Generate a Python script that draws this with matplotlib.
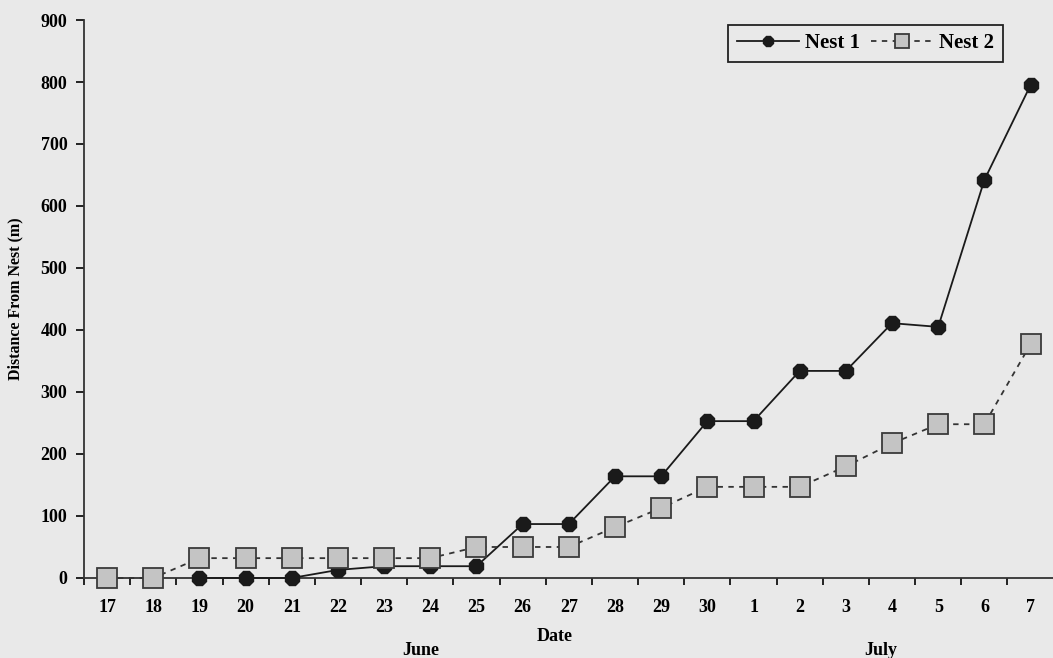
import numpy as np
import matplotlib
matplotlib.use("Agg")
import matplotlib.pyplot as plt
from matplotlib.ticker import FixedLocator

dates = ["17", "18", "19", "20", "21", "22", "23", "24", "25", "26", "27", "28",
         "29", "30", "1", "2", "3", "4", "5", "6", "7"]
nest1 = [np.nan, np.nan, 0, 0, 0, 13, 19, 19, 19, 87, 87, 164, 164, 253, 253,
         334, 334, 411, 405, 642, 795]
nest2 = [0, 0, 32, 32, 32, 32, 32, 32, 50, 50, 50, 82, 113, 147, 147, 147,
         180, 217, 248, 248, 377]
yticks = [0, 100, 200, 300, 400, 500, 600, 700, 800, 900]

bg = "#e9e9e9"
serif = ["Liberation Serif", "DejaVu Serif"]
plt.rcParams["font.family"] = serif

fig = plt.figure(figsize=(10.53, 6.58), dpi=100, facecolor=bg)
ax = fig.add_axes([0.0798, 0.1216, 0.923, 0.848], facecolor=bg)

x = np.arange(len(dates))
ax.plot(x, nest1, color="#1a1a1a", lw=1.3, marker="8", ms=11,
        mfc="#1a1a1a", mec="#1a1a1a", label="Nest 1", zorder=3, clip_on=False)
ax.plot(x, nest2, color="#333333", lw=1.3, ls=(0, (3, 3)), marker="s", ms=14,
        mfc="#c4c4c4", mec="#3a3a3a", mew=1.3, label="Nest 2", zorder=3,
        clip_on=False)

ax.set_xlim(-0.5, len(dates) - 0.45)
ax.set_ylim(0, 900)

ax.xaxis.set_major_locator(FixedLocator(np.arange(-0.5, len(dates), 1.0)))
ax.xaxis.set_minor_locator(FixedLocator(x))
ax.set_xticklabels([])
ax.set_xticklabels(dates, minor=True, fontsize=13, fontweight="bold")
ax.tick_params(axis="x", which="major", direction="out", length=5, width=1.2)
ax.tick_params(axis="x", which="minor", length=0, pad=15)

ax.set_yticks(yticks)
ax.set_yticklabels([str(v) for v in yticks], fontsize=13, fontweight="bold")
ax.tick_params(axis="y", direction="out", length=6, width=1.2, pad=6)

for s in ["top", "right"]:
    ax.spines[s].set_visible(False)
for s in ["left", "bottom"]:
    ax.spines[s].set_linewidth(1.3)
    ax.spines[s].set_color("#333333")

ax.set_ylabel("Distance From Nest (m)", fontsize=11.5, fontweight="bold")
ax.yaxis.set_label_coords(-0.062, 0.5)

fig.text(0.527, 0.033, "Date", ha="center", va="center", fontsize=13,
         fontweight="bold")
fig.text(0.40, 0.012, "June", ha="center", va="center", fontsize=13,
         fontweight="bold")
fig.text(0.836, 0.012, "July", ha="center", va="center", fontsize=13,
         fontweight="bold")

leg = ax.legend(loc="upper right", bbox_to_anchor=(0.956, 1.01), ncol=2,
                frameon=True, fancybox=False, edgecolor="#222222",
                facecolor=bg, framealpha=1,
                prop={"family": serif, "weight": "bold", "size": 15},
                handlelength=3.0, columnspacing=0.5, handletextpad=0.3,
                borderpad=0.4, markerscale=0.7)
leg.get_frame().set_linewidth(1.3)

fig.savefig("out.png", dpi=100, facecolor=bg)
